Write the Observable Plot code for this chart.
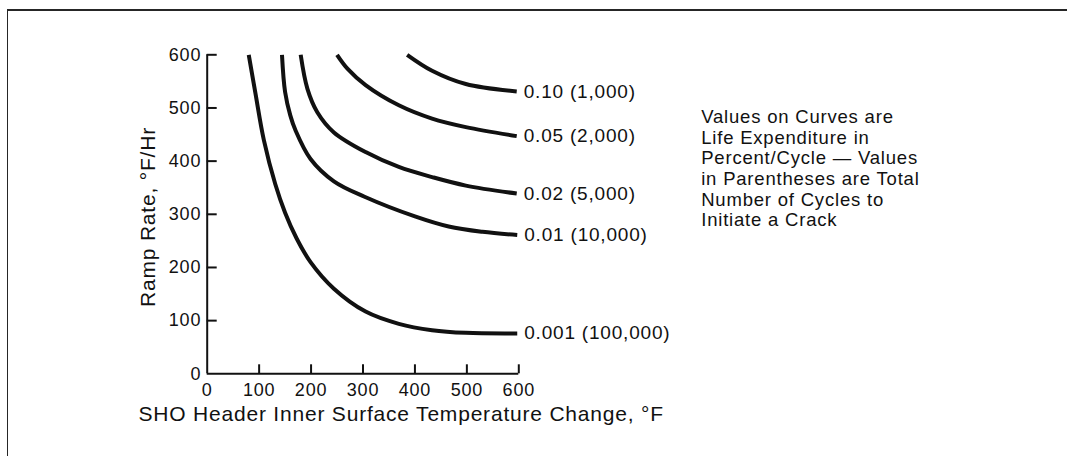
<!DOCTYPE html>
<html><head><meta charset="utf-8">
<script src="https://cdn.jsdelivr.net/npm/d3@7"></script>
<script src="https://cdn.jsdelivr.net/npm/@observablehq/plot@0.6"></script>
<style>
html,body{margin:0;padding:0;background:#fff;}
#wrap{position:relative;width:1067px;height:456px;overflow:hidden;background:#fff;}
#frame{position:absolute;left:7px;top:9px;right:-10px;bottom:-10px;border-top:2px solid #262626;border-left:1.5px solid #262626;pointer-events:none;}
#wrap svg{position:absolute;left:0;top:0;}
</style></head><body><div id="wrap"><div id="frame"></div></div>
<script>
// ---- data ----
const series = ["0.001 (100,000)", "0.01 (10,000)", "0.02 (5,000)", "0.05 (2,000)", "0.10 (1,000)"];
const x0001 = [80, 93, 109, 131, 150, 172, 199, 244, 305, 369, 433, 498, 597];
const y0001 = [600, 527, 440, 357, 303, 255, 210, 160, 117, 94, 82, 77, 76];
const x001 = [144, 150, 160, 170, 199, 244, 303, 400, 465, 530, 597];
const y001 = [600, 530, 486, 458, 404, 362, 333, 296, 277, 267, 261];
const x002 = [180, 193, 212, 244, 305, 369, 433, 498, 596];
const y002 = [600, 536, 492, 454, 417, 389, 370, 354, 339];
const x005 = [250, 270, 305, 369, 433, 498, 596];
const y005 = [600, 574, 543, 505, 480, 464, 447];
const x010 = [385, 433, 498, 596];
const y010 = [600, 570, 545, 531];
const xTicks = [0, 100, 200, 300, 400, 500, 600];
const yTicks = [0, 100, 200, 300, 400, 500, 600];
const xTitle = "SHO Header Inner Surface Temperature Change, °F";
const yTitle = "Ramp Rate, °F/Hr";
const note = ["Values on Curves are", "Life Expenditure in", "Percent/Cycle — Values", "in Parentheses are Total", "Number of Cycles to", "Initiate a Crack"];

// ---- build table ----
const xs = [x0001, x001, x002, x005, x010];
const ys = [y0001, y001, y002, y005, y010];
const rows = series.flatMap((s, i) => xs[i].map((x, j) => ({series: s, x, y: ys[i][j]})));
const ends = series.map((s, i) => ({series: s, x: xs[i][xs[i].length - 1], y: ys[i][ys[i].length - 1]}));

const W = 1067, H = 456;
const mL = 206.7, mR = W - 518.3, mT = 54.3, mB = H - 373.3;
const plotW = W - mL - mR, plotH = H - mT - mB;
const ink = "#111";

const chart = Plot.plot({
  width: W, height: H,
  marginLeft: mL, marginRight: mR, marginTop: mT, marginBottom: mB,
  x: {domain: [0, 600]},
  y: {domain: [0, 600]},
  style: "font-family: 'Liberation Sans', Arial, Helvetica, sans-serif; color: #111; background: transparent; overflow: visible;",
  marks: [
    Plot.ruleX([0], {stroke: ink, strokeWidth: 2}),
    Plot.ruleY([0], {stroke: ink, strokeWidth: 2}),
    Plot.tickY(yTicks.slice(1), {y: d => d, stroke: ink, strokeWidth: 2, insetRight: plotW - 10}),
    Plot.tickX(xTicks.slice(1), {x: d => d, stroke: ink, strokeWidth: 2, insetTop: plotH - 9}),
    Plot.axisX({ticks: xTicks, tickSize: 0, tickPadding: 9, fontSize: 18, label: null, tickFormat: d => String(d)}),
    Plot.axisY({ticks: yTicks, tickSize: 0, tickPadding: 6, fontSize: 18, label: null, tickFormat: d => String(d)}),
    Plot.line(rows, {x: "x", y: "y", z: "series", curve: "catmull-rom", stroke: ink, strokeWidth: 4, strokeLinecap: "butt"}),
    Plot.text(ends, {x: "x", y: "y", text: "series", dx: 7, textAnchor: "start", lineAnchor: "middle", fontSize: 19, fill: ink}),
    Plot.text([xTitle], {frameAnchor: "bottom-left", dx: -68.7, dy: 40.2, textAnchor: "start", lineAnchor: "middle", fontSize: 21, fill: ink}),
    Plot.text([yTitle], {frameAnchor: "left", rotate: -90, dx: -58.7, dy: 2.7, textAnchor: "middle", lineAnchor: "middle", fontSize: 21, fill: ink}),
    Plot.text([note.join("\n")], {frameAnchor: "top-left", dx: 494, dy: 53.4, textAnchor: "start", lineAnchor: "top", lineHeight: 1.12, fontSize: 18.5, fill: ink, ariaLabel: "note"})
  ]
});
chart.style.letterSpacing = "0.8px";
chart.querySelectorAll('g[aria-label="note"] text').forEach(t => t.setAttribute("letter-spacing", "1.6px"));
document.getElementById("wrap").appendChild(chart);
</script>
</body></html>
